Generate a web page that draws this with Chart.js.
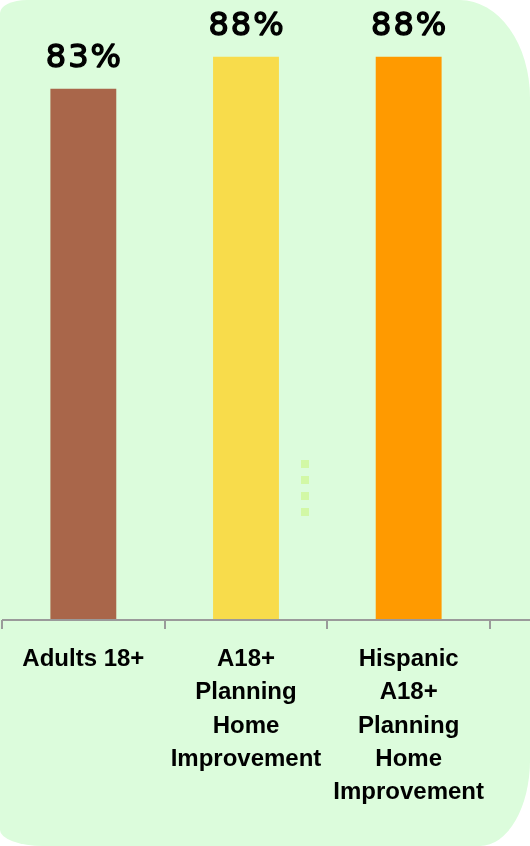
<!DOCTYPE html>
<html>
<head>
<meta charset="utf-8">
<script src="https://cdn.jsdelivr.net/npm/chart.js@4/dist/chart.umd.min.js"></script>
<style>
  html, body { margin: 0; padding: 0; background: #ffffff; }
  #wrap {
    position: absolute; left: 0; top: 0; width: 530px; height: 846px;
    background: #DCFCDC;
    border-top-left-radius: 27px 13px;
    border-top-right-radius: 70px 98px;
    border-bottom-right-radius: 50px 86px;
    border-bottom-left-radius: 43px 16px;
    overflow: hidden;
  }
  #dots {
    position: absolute; left: 301px; top: 460px; width: 8px; height: 56px;
    background: repeating-linear-gradient(to bottom, #D2F8A6 0px, #D2F8A6 8px, transparent 8px, transparent 16px);
  }
  canvas { position: absolute; left: 0; top: 0; }
</style>
</head>
<body>
<div id="wrap">
  <div id="dots"></div>
  <canvas id="c" width="530" height="846"></canvas>
</div>
<script>
const categories = [
  ["Adults 18+"],
  ["A18+", "Planning", "Home", "Improvement"],
  ["Hispanic", "A18+", "Planning", "Home", "Improvement"]
];
const values = [83, 88, 88];
const valueLabels = ["83%", "88%", "88%"];
const barColors = ["#A9664A", "#F8DC4B", "#FF9A00"];

const valueLabelPlugin = {
  id: 'valueLabels',
  afterDatasetsDraw(chart) {
    const ctx = chart.ctx;
    const meta = chart.getDatasetMeta(0);
    ctx.save();
    ctx.font = "32px 'DejaVu Sans'";
    ctx.fillStyle = "#000";
    ctx.strokeStyle = "#000";
    ctx.lineWidth = 1.4;
    ctx.lineJoin = "round";
    ctx.textAlign = "center";
    ctx.textBaseline = "alphabetic";
    if ('letterSpacing' in ctx) ctx.letterSpacing = "2px";
    meta.data.forEach((bar, i) => {
      const x = bar.x + 1;
      const y = bar.y - 22;
      ctx.fillText(valueLabels[i], x, y);
      ctx.strokeText(valueLabels[i], x, y);
    });
    ctx.restore();
  }
};

const axisLinePlugin = {
  id: 'axisLine',
  afterDraw(chart) {
    const ctx = chart.ctx;
    const y = chart.chartArea.bottom;
    ctx.save();
    ctx.strokeStyle = "#9A9A9A";
    ctx.lineWidth = 2;
    ctx.beginPath();
    ctx.moveTo(chart.chartArea.left, y);
    ctx.lineTo(chart.width, y);
    ctx.stroke();
    ctx.restore();
  }
};

new Chart(document.getElementById('c'), {
  type: 'bar',
  data: {
    labels: categories,
    datasets: [{
      data: values,
      backgroundColor: barColors,
      borderWidth: 0,
      categoryPercentage: 1.0,
      barPercentage: 0.405
    }]
  },
  options: {
    responsive: false,
    animation: false,
    devicePixelRatio: 1,
    layout: { padding: { left: 2, right: 40, top: 12, bottom: 0 } },
    plugins: { legend: { display: false }, tooltip: { enabled: false } },
    scales: {
      y: { display: false, min: 0, max: 95 },
      x: {
        afterFit: (scale) => { scale.height = 226; scale.paddingLeft = 0; scale.paddingRight = 0; },
        border: { display: false },
        grid: {
          display: true, offset: true, drawOnChartArea: false, drawTicks: true,
          tickLength: 9, color: "#9A9A9A", lineWidth: 2
        },
        ticks: {
          color: "#000",
          padding: 14,
          maxRotation: 0,
          autoSkip: false,
          font: { family: "'Liberation Sans', Arial, sans-serif", weight: "bold", size: 24, lineHeight: 1.385 }
        }
      }
    }
  },
  plugins: [valueLabelPlugin, axisLinePlugin]
});
</script>
</body>
</html>
